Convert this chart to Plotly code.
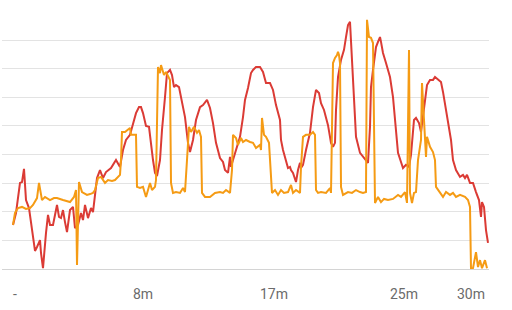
import plotly.graph_objects as go

# x = sample index, y = value (grid units)
red_x = [0,3,7,9,11,13,16,19,22,24,27,28,30,33,35,37,40,44,46,48,50,52,54,57,60,62,65,68,70,72,75,78,80,84,87,90,93,98,103,107,110,113,117,120,123,126,128,130,133,136,138,140,142,144,147,149,152,154,157,159,161,163,166,168,172,175,177,180,183,187,190,194,197,200,203,207,210,212,215,217,218,220,223,227,230,232,235,238,240,243,247,250,253,257,260,263,267,268,270,272,273,275,277,278,280,282,283,285,287,288,290,293,297,300,303,306,308,311,313,315,317,318,320,322,323,325,328,331,333,335,337,338,340,342,343,347,350,353,355,357,358,360,362,363,365,367,368,370,373,377,380,383,385,388,390,393,396,398,401,403,406,408,410,412,414,417,420,422,425,428,430,432,435,438,440,443,447,450,452,454,457,460,463,466,468,469,471,473,475]
red_y = [1.54,1.96,3.01,3.04,3.50,2.41,2.13,1.29,0.63,0.77,1.01,0.56,0.03,1.26,1.89,1.54,1.54,2.24,1.82,1.78,2.06,1.64,1.29,2.06,2.17,1.43,1.54,1.96,1.71,2.24,1.78,2.13,1.99,3.18,3.46,3.18,3.39,3.53,3.81,3.57,4.16,4.51,4.69,5.07,5.45,5.66,5.66,5.45,5.00,4.97,4.34,3.81,3.36,3.25,3.81,4.86,6.01,6.85,6.96,6.78,6.36,6.43,6.36,6.01,5.31,4.41,4.09,4.51,5.21,5.66,5.73,5.91,5.63,5.10,4.41,3.88,3.74,3.46,3.36,3.92,3.57,3.81,4.16,4.62,5.31,5.91,6.33,6.85,6.96,7.06,7.06,6.89,6.50,6.50,6.26,5.73,5.21,4.51,4.16,3.92,3.74,3.53,3.57,3.46,3.36,3.11,3.04,3.46,3.71,3.53,3.64,4.16,4.76,5.66,6.26,6.15,5.80,5.56,5.28,5.03,4.62,4.41,4.27,4.41,5.56,6.71,7.31,7.66,8.11,8.53,8.64,8.01,6.71,5.56,4.62,4.06,3.92,3.81,3.71,4.97,6.36,6.96,7.41,7.76,7.94,8.11,7.94,7.55,7.20,6.71,6.01,4.86,4.06,3.74,3.53,3.64,3.57,3.99,5.21,5.28,5.10,4.79,5.31,5.91,6.43,6.61,6.61,6.71,6.61,6.54,6.19,5.80,5.21,4.51,3.81,3.46,3.22,3.29,3.18,3.29,3.01,3.01,2.69,2.41,1.82,2.34,2.17,1.36,0.91]

orange_x = [0,2,5,9,13,17,20,24,26,29,32,37,41,44,50,57,61,63,64,66,69,74,77,80,82,85,88,92,95,99,102,107,108,109,112,115,117,118,123,124,127,130,133,137,139,142,143,145,147,148,151,153,156,157,158,160,163,167,170,172,174,176,178,181,184,186,188,189,192,197,202,207,210,213,217,219,220,223,225,228,230,233,237,240,243,247,248,249,251,253,256,258,259,262,265,268,271,275,278,280,283,287,288,290,293,297,300,302,303,305,308,313,317,318,320,322,324,325,326,327,328,330,335,339,343,347,350,353,354,356,358,360,362,365,368,371,375,380,385,388,392,394,396,397,399,401,403,405,407,408,409,411,412,413,414,417,420,422,423,427,430,433,437,440,443,447,452,455,457,458,460,463,465,467,469,472,474]
orange_y = [1.54,1.96,2.13,2.17,2.10,2.13,2.24,2.48,3.01,2.41,2.52,2.41,2.48,2.48,2.41,2.34,2.52,2.76,0.14,3.04,2.69,2.59,2.62,2.66,2.76,3.18,3.22,3.01,3.11,3.08,3.11,3.29,3.81,4.79,4.79,4.86,4.93,4.69,4.69,2.87,2.83,2.87,2.52,3.01,2.76,2.87,3.11,7.06,6.85,7.13,6.78,6.89,6.68,6.61,3.01,2.66,2.69,2.66,2.83,2.69,3.81,4.97,4.79,4.97,4.76,4.86,4.62,2.66,2.52,2.52,2.66,2.69,2.66,2.76,2.66,3.46,4.69,4.58,4.34,4.58,4.44,4.51,4.44,4.41,4.23,4.34,4.16,5.28,4.69,4.62,4.41,2.87,2.66,2.76,2.59,2.76,2.66,2.69,2.94,2.66,2.76,2.66,3.57,4.62,4.69,4.69,4.79,4.69,2.76,2.66,2.69,2.66,2.83,2.66,7.20,7.38,7.48,7.59,7.48,7.20,2.87,2.59,2.69,2.66,2.76,2.69,2.66,2.69,8.71,8.11,8.08,7.90,2.31,2.52,2.34,2.45,2.41,2.45,2.59,2.52,2.69,2.31,7.66,2.66,2.31,2.66,2.69,3.81,4.27,4.51,6.50,4.97,4.62,3.92,4.62,4.27,4.09,3.81,2.87,2.66,2.52,2.69,2.59,2.66,2.52,2.59,2.52,2.41,2.17,0.00,0.03,0.59,0.07,0.31,0.03,0.31,0.03]

tick_pos = [2, 130, 261, 391, 458]
tick_text = ["-", "8m", "17m", "25m", "30m"]

fig = go.Figure()
fig.add_trace(go.Scatter(x=red_x, y=red_y, mode="lines",
                         line=dict(color="#db3b35", width=2), hoverinfo="skip"))
fig.add_trace(go.Scatter(x=orange_x, y=orange_y, mode="lines",
                         line=dict(color="#f59b14", width=2), hoverinfo="skip"))

fig.update_layout(
    width=512, height=310,
    margin=dict(l=2, r=23, t=13, b=41),
    paper_bgcolor="white", plot_bgcolor="white",
    showlegend=False,
    font=dict(family="Roboto", size=14, color="#6b6b6b"),
)
fig.update_xaxes(range=[-11, 476], tickvals=tick_pos, ticktext=tick_text,
                 showgrid=False, zeroline=False, showline=False,
                 ticks="outside", ticklen=12, tickcolor="rgba(0,0,0,0)")
fig.update_yaxes(range=[0, 8.95], dtick=1, showticklabels=False,
                 showgrid=True, gridcolor="#e3e3e3", gridwidth=1,
                 zeroline=True, zerolinecolor="#d4d4d4", zerolinewidth=1)

fig.write_html("out.html")
